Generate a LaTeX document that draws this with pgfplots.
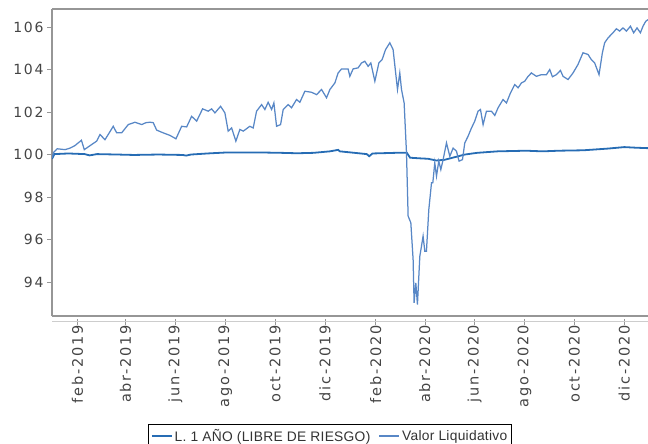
\documentclass[border=0pt]{standalone}
\usepackage{fontspec}
\usepackage{pgfplots}
\pgfplotsset{compat=1.18}
\setmainfont{DejaVu Sans}
\newfontfamily\tickfont[LetterSpace=12]{DejaVu Sans}
\newfontfamily\legfont[LetterSpace=2]{Liberation Sans}
\definecolor{framegray}{RGB}{150,150,150}
\definecolor{axisgray}{RGB}{205,205,205}
\definecolor{ticktext}{RGB}{68,68,68}
\definecolor{riskfree}{RGB}{38,108,180}
\definecolor{vliq}{RGB}{88,135,198}

\pgfplotstableread{
day value
0 99.85
2 100.1
6.5 100.27
16 100.23
22 100.3
28 100.42
36 100.67
39.5 100.23
44 100.35
48.5 100.47
54.6 100.63
58.7 100.94
64.8 100.7
69.7 101.0
74.9 101.33
79.1 101.02
85.2 101.02
93.3 101.41
101.5 101.52
109.7 101.41
114.9 101.5
119.8 101.52
123.8 101.5
128 101.15
136 101.02
144.3 100.9
151.6 100.74
158.6 101.33
164.7 101.3
170.8 101.8
176.9 101.57
184.2 102.15
191.1 102.04
195.2 102.15
199.3 101.96
206.2 102.27
211.5 101.96
215.5 101.1
219.7 101.25
224.9 100.63
229.8 101.18
233.9 101.1
242 101.33
246.1 101.25
250.2 102.04
256.4 102.35
260.4 102.12
264.4 102.46
268.6 102.12
271.4 102.43
274.7 101.33
279.6 101.41
282.8 102.12
288.9 102.35
293 102.2
299.1 102.59
303.2 102.46
309.3 102.98
317.5 102.93
323.6 102.82
329.7 103.06
335.8 102.67
339.9 103.06
346 103.37
350 103.84
354.2 104.03
362.2 104.03
364.3 103.68
368.3 104.03
374.4 104.08
378.6 104.31
382.6 104.39
386.7 104.15
390 104.31
394.9 103.45
399.8 104.31
403.8 104.47
408 104.94
413.2 105.26
417.2 104.94
422.6 103.06
425.4 103.84
427.5 103.06
430.7 102.43
433.6 100.08
435.6 97.1
438.9 96.79
441.7 95.06
442.9 93.02
445 93.96
447 92.94
449.9 95.21
451.9 95.68
453.9 96.16
456 95.45
458 95.45
460.9 97.41
464.2 98.67
465.8 98.67
468.2 99.61
470.3 98.98
473.1 99.7
475.6 99.29
478.4 99.76
482.5 100.55
486.6 99.92
490.6 100.3
494.7 100.16
497.9 99.69
502.1 99.76
504.9 100.55
508.9 100.86
513.1 101.25
517.1 101.57
521.1 102.04
524.1 102.12
527.3 101.41
531.4 102.04
537.5 102.04
541.6 101.84
545.6 102.2
551.7 102.59
555.9 102.43
560.8 102.9
566 103.29
570.1 103.14
574.2 103.37
578.2 103.45
582.3 103.68
586.4 103.84
592.5 103.68
598.7 103.76
604.8 103.76
608.8 104.0
612.1 103.66
617 103.76
621.9 103.96
625.1 103.68
631.2 103.53
637.3 103.84
643.4 104.24
649.5 104.79
655.6 104.71
659.7 104.47
663.8 104.31
669.1 103.76
673.2 104.79
676 105.26
680.1 105.49
686.2 105.73
690.3 105.92
694.4 105.81
698.4 105.96
702.6 105.81
707.5 106.04
711.5 105.73
715.6 105.96
719.7 105.73
722.9 106.04
726.2 106.27
729 106.35
}\vliqdata

\pgfplotstableread{
day value
0 99.8
3 100.02
20 100.05
40 100.02
46 99.96
55 100.02
80 100.0
100 99.98
130 100.0
160 99.98
164 99.95
170 100.0
190 100.05
215 100.1
250 100.1
280 100.08
300 100.06
320 100.08
340 100.15
350 100.22
352 100.15
370 100.08
385 100.02
388 99.92
392 100.05
420 100.08
434 100.08
438 99.85
450 99.82
460 99.8
470 99.72
480 99.75
490 99.85
505 100.0
520 100.08
545 100.15
580 100.18
600 100.15
620 100.18
650 100.2
680 100.28
700 100.35
715 100.32
729 100.3
}\riskfreedata

\begin{document}
\begin{tikzpicture}
\useasboundingbox (-52pt,-128pt) rectangle (596pt,316pt);
\begin{axis}[
  at={(0pt,0pt)}, anchor=south west,
  scale only axis, width=596pt, height=307pt,
  xmin=0, xmax=729, ymin=92.4, ymax=106.85,
  axis x line*=box, axis y line*=left,
  axis line style={framegray, line width=1.3pt, -},
  xtick=\empty,
  ytick={94,96,98,100,102,104,106},
  tick align=outside, major tick length=5pt,
  y tick style={framegray, line width=0.6pt},
  /pgf/number format/assume math mode=true,
  yticklabel style={font=\tickfont\fontsize{14}{16}\selectfont, text=ticktext},
  legend columns=2,
  legend style={at={(0.161,-0.352)}, anchor=north west, draw=black, line width=0.8pt,
    font=\legfont\fontsize{13.8}{16}\selectfont, text=black!80, inner sep=2.5pt,
    /tikz/every even column/.append style={column sep=6pt}},
  legend image code/.code={\draw[#1, line width=1.8pt] (0pt,0pt) -- (20pt,0pt);},
]
\addplot[riskfree, line width=1.8pt] table[x=day, y=value] {\riskfreedata};
\addlegendentry{L. 1 AÑO (LIBRE DE RIESGO)}
\addplot[vliq, line width=1.25pt] table[x=day, y=value] {\vliqdata};
\addlegendentry{Valor Liquidativo}
\end{axis}
\begin{axis}[
  at={(0pt,-6pt)}, anchor=south west,
  scale only axis, width=596pt, height=307pt,
  xmin=0, xmax=729, ymin=0, ymax=1,
  axis x line*=bottom, hide y axis,
  x axis line style={axisgray, line width=1pt, -},
  xtick={31,90,151,212,273,334,396,456,517,578,639,700},
  xticklabels={feb-2019,abr-2019,jun-2019,ago-2019,oct-2019,dic-2019,feb-2020,abr-2020,jun-2020,ago-2020,oct-2020,dic-2020},
  x tick style={framegray, line width=0.6pt},
  tick align=center, major tick length=6pt,
  xticklabel shift=-3pt,
  xticklabel style={rotate=90, anchor=east, font=\tickfont\fontsize{14.5}{16}\selectfont, text=ticktext},
]
\addplot[draw=none] coordinates {(0,0)};
\end{axis}
\end{tikzpicture}
\end{document}
